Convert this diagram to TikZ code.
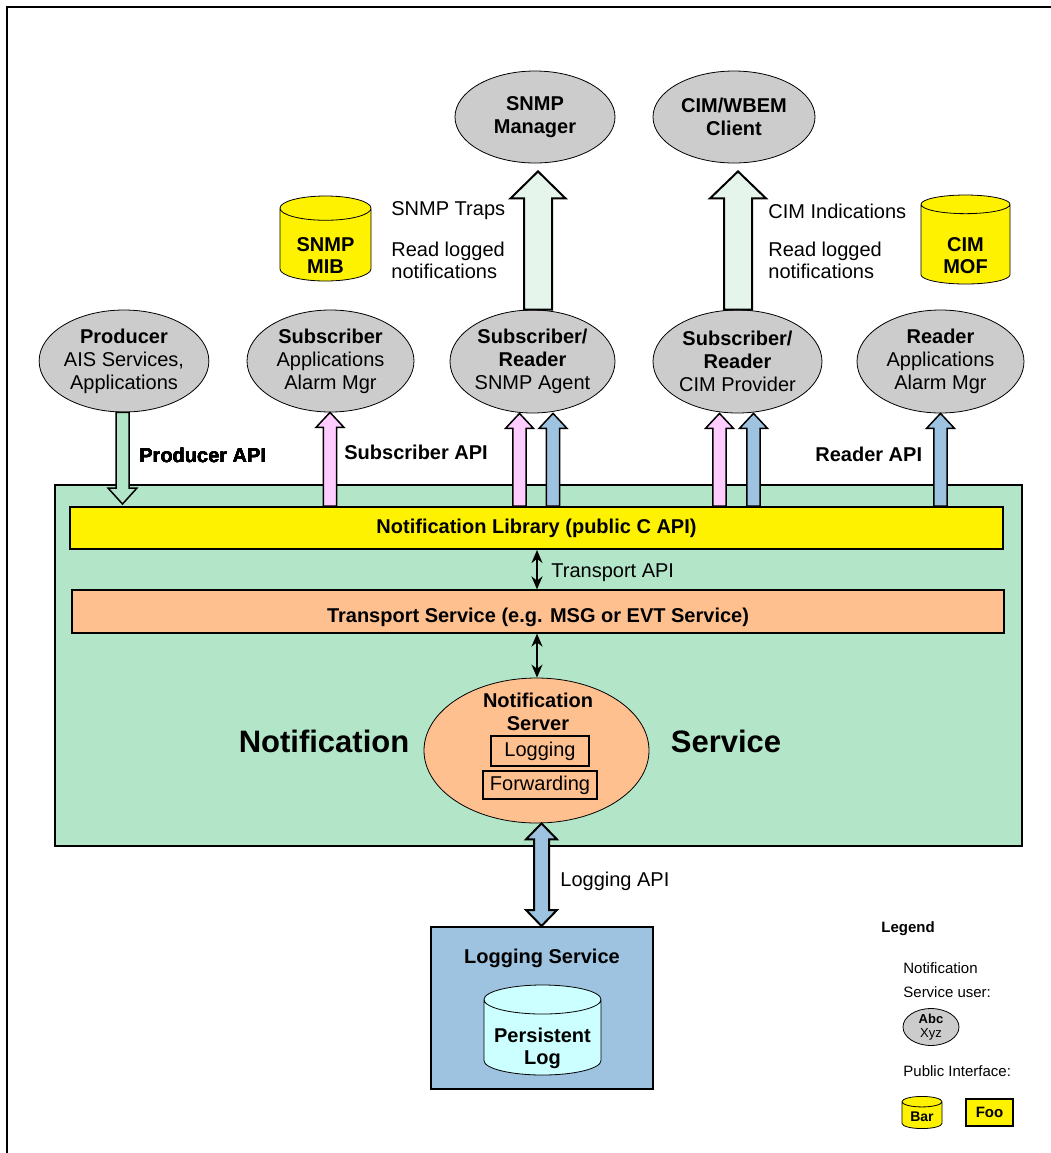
\documentclass[tikz,border=0pt]{standalone}
\usepackage{fontspec}
\setmainfont{Liberation Sans}
\usetikzlibrary{shapes.geometric,arrows.meta,calc}

\definecolor{nsgreen}{RGB}{179,230,200}
\definecolor{peach}{RGB}{255,192,144}
\definecolor{usergray}{RGB}{204,204,204}
\definecolor{apipink}{RGB}{255,204,255}
\definecolor{apiblue}{RGB}{157,195,224}
\definecolor{paleflow}{RGB}{230,245,236}
\definecolor{logcyan}{RGB}{204,255,255}

% block arrow: [style]{start}{tip}{shaft half width}{head half width}{head length}
\newcommand{\fatarrow}[6][]{%
	\path[#1] let \p1=(#2), \p2=(#3), \p3=($(#3)!#6!(#2)$) in
		(\x1-#4,\y1) -- (\x1-#4,\y3) -- (\x1-#5,\y3) -- (\x1,\y2)
		-- (\x1+#5,\y3) -- (\x1+#4,\y3) -- (\x1+#4,\y1) -- cycle;}
% block arrow with two heads
\newcommand{\fatdblarrow}[6][]{%
	\path[#1] let \p1=(#2), \p2=(#3), \p3=($(#3)!#6!(#2)$), \p4=($(#2)!#6!(#3)$) in
		(\x1,\y1) -- (\x1-#5,\y4) -- (\x1-#4,\y4) -- (\x1-#4,\y3) -- (\x1-#5,\y3) -- (\x2,\y2)
		-- (\x1+#5,\y3) -- (\x1+#4,\y3) -- (\x1+#4,\y4) -- (\x1+#5,\y4) -- cycle;}
% text set lower in a cylinder body: {drop}{lines}
\newcommand{\ifacelabel}[2]{\raisebox{-#1}[\height][\depth]{\begin{tabular}{@{}c@{}}#2\end{tabular}}}

\begin{document}
\begin{tikzpicture}[x=0.5pt,y=-0.5pt]
	\tikzstyle{user} = [ellipse,draw=black,fill=usergray,inner sep=0pt,align=center,font=\fontsize{10}{11.5}\selectfont]
	\tikzstyle{iface} = [cylinder,shape border rotate=90,aspect=0.42,draw=black,fill=yellow,inner sep=0pt,anchor=shape center,font=\fontsize{10}{11}\selectfont\bfseries]
	\tikzstyle{bar} = [rectangle,draw=black,inner sep=0pt,font=\fontsize{10}{12}\selectfont\bfseries]
	\tikzstyle{txt} = [inner sep=0pt,align=left,font=\fontsize{10}{11}\selectfont]
	\tikzstyle{api} = [inner sep=0pt,font=\fontsize{10}{12}\selectfont\bfseries]
	\tikzstyle{big} = [draw=black,line width=1pt]
	\tikzstyle{small} = [draw=black,line width=0.75pt]
	\tikzstyle{tpt} = [{Stealth[length=6.5pt,width=5.5pt]}-{Stealth[length=6.5pt,width=5.5pt]},line width=1pt]

	\useasboundingbox (0,0) rectangle (1051,1153);
	\draw[line width=1pt] (7,1153) -- (7,7) -- (1051,7);

	% managers on top
	\node[user,minimum width=80pt,minimum height=46pt] (snmpmgr) at (535,117) {\textbf{SNMP}\\\textbf{Manager}};
	\node[user,minimum width=81pt,minimum height=46pt] (cimclient) at (734,117) {\textbf{CIM/WBEM}\\\textbf{Client}};
	\node[iface,minimum width=45.5pt,minimum height=42.5pt] (snmpmib) at (325.5,238.5) {\ifacelabel{6.5pt}{SNMP\\MIB}};
	\node[iface,minimum width=44.5pt,minimum height=44.5pt] (cimmof) at (965.5,239.5) {\ifacelabel{7pt}{CIM\\MOF}};

	% notification service users
	\node[user,minimum width=83pt,minimum height=51pt] (producer) at (124,361) {\textbf{Producer}\\AIS Services,\\Applications};
	\node[user,minimum width=83.5pt,minimum height=51pt] (subscriber) at (330.5,361) {\textbf{Subscriber}\\Applications\\Alarm Mgr};
	\node[user,minimum width=82.5pt,minimum height=51.5pt] (snmpagent) at (532.5,361.5) {\textbf{Subscriber/}\\\textbf{Reader}\\SNMP Agent};
	\node[user,minimum width=84.5pt,minimum height=51.5pt] (cimprov) at (737.5,361.5) {\textbf{Subscriber/}\\\textbf{Reader}\\CIM Provider};
	\node[user,minimum width=83.5pt,minimum height=51.5pt] (reader) at (940.5,361.5) {\textbf{Reader}\\Applications\\Alarm Mgr};

	% notification service
	\node[rectangle,draw=black,line width=1pt,fill=nsgreen,minimum width=483.5pt,minimum height=180.5pt] (nsbox) at (538.5,665.5) {};
	\node[bar,fill=yellow,line width=1pt,minimum width=466.5pt,minimum height=21pt] (notiflib) at (536.5,528) {Notification Library (public C API)};
	\node[bar,fill=peach,line width=0.6pt,minimum width=466pt,minimum height=21.5pt,text depth=0pt] (transport) at (538,611.5) {\raisebox{-2pt}[\height][\depth]{Transport Service (e.g. MSG or EVT Service)}};
	\node[ellipse,draw=black,fill=peach,inner sep=0pt,minimum width=112.5pt,minimum height=72.5pt] (server) at (536.5,750.5) {};
	\node[api,align=center,font=\fontsize{10}{11.5}\selectfont\bfseries] (servername) at (538,711.5) {Notification\\Server};
	\node[rectangle,draw=black,line width=1pt,inner sep=0pt,minimum width=49pt,minimum height=15pt,font=\fontsize{10}{12}\selectfont] (logging) at (540,751) {Logging};
	\node[rectangle,draw=black,line width=1pt,inner sep=0pt,minimum width=57pt,minimum height=14pt,font=\fontsize{10}{12}\selectfont] (forwarding) at (540,785) {Forwarding};
	\node[inner sep=0pt,font=\fontsize{15.5}{18}\selectfont\bfseries] (nsleft) at (324,741) {Notification};
	\node[inner sep=0pt,font=\fontsize{15.5}{18}\selectfont\bfseries] (nsright) at (726,741) {Service};

	% transport arrows
	\draw[tpt] (notiflib.south -| 537,0) -- (transport.north -| 537,0);
	\node[txt,anchor=west] (transportapi) at (551,573) {Transport API};
	\draw[tpt] (transport.south -| 537,0) -- (server.north -| 537,0);

	% logging service
	\node[rectangle,draw=black,line width=1pt,fill=apiblue,minimum width=111pt,minimum height=81pt] (logsvc) at (542,1008) {};
	\node[api] (logsvcname) at (542,958) {Logging Service};
	\node[iface,fill=logcyan,aspect=0.3,minimum width=58.5pt,minimum height=45pt] (persistlog) at (542.5,1030) {\ifacelabel{6pt}{Persistent\\Log}};
	\fatdblarrow[big,fill=apiblue]{server.south -| 541.5,0}{logsvc.north -| 541.5,0}{3.75pt}{7.75pt}{8pt}
	\node[txt,anchor=west] (loggingapi) at (560,881) {Logging API};

	% flows to the managers
	\coordinate (snmptip) at ($(snmpmgr.south)+(3,8)$);
	\coordinate (cimtip) at ($(cimclient.south)+(4,8)$);
	\fatarrow[big,fill=paleflow]{snmpagent.north -| snmptip}{snmptip}{7pt}{13.75pt}{13.5pt}
	\fatarrow[big,fill=paleflow]{cimprov.north -| cimtip}{cimtip}{7pt}{14pt}{13.5pt}
	\node[txt,anchor=west] (snmptraps) at (391,211) {SNMP Traps};
	\node[txt,anchor=west] (snmpread) at (391,260) {Read logged\\notifications};
	\node[txt,anchor=west] (cimind) at (768,211) {CIM Indications};
	\node[txt,anchor=west] (cimread) at (768,260) {Read logged\\notifications};

	% API arrows
	\coordinate (prodtip) at (122.5,504);
	\fatarrow[small,fill=nsgreen]{producer.south -| prodtip}{prodtip}{3.25pt}{7.25pt}{8pt}
	\foreach \name/\apix/\col in {subscriber/330/apipink,snmpagent/519.5/apipink,snmpagent/553/apiblue,cimprov/719.5/apipink,cimprov/753.5/apiblue,reader/940.5/apiblue}
		\fatarrow[small,fill=\col]{notiflib.north -| \apix,0}{\name.south -| \apix,0}{3.3pt}{7pt}{7.5pt}
	\node[api,anchor=west] (prodapi) at (139,455) {Producer API};
	\node[api,anchor=west] (subapi) at (344,452) {Subscriber API};
	\node[api,anchor=west] (readapi) at (815,454) {Reader API};

	% legend
	\node[api,anchor=west,font=\fontsize{7.5}{9}\selectfont\bfseries] (legend) at (881,929) {Legend};
	\node[txt,anchor=north west,font=\fontsize{7.5}{12}\selectfont] (legenduser) at (903,962) {Notification\\Service user:};
	\node[user,minimum width=28pt,minimum height=17pt,font=\fontsize{6.5}{7}\selectfont] (legendell) at (931,1027) {\textbf{Abc}\\Xyz};
	\node[txt,anchor=west,font=\fontsize{7.5}{9}\selectfont] (legendpub) at (903,1071) {Public Interface:};
	\node[iface,aspect=0.45,minimum width=20pt,minimum height=15.5pt,font=\fontsize{7}{8}\selectfont\bfseries] (legendbar) at (922,1112.5) {\ifacelabel{1.5pt}{Bar}};
	\node[bar,fill=yellow,line width=1pt,minimum width=23.5pt,minimum height=13.5pt,font=\fontsize{7.5}{9}\selectfont\bfseries] (legendfoo) at (989.5,1112.5) {Foo};
\end{tikzpicture}
\end{document}
